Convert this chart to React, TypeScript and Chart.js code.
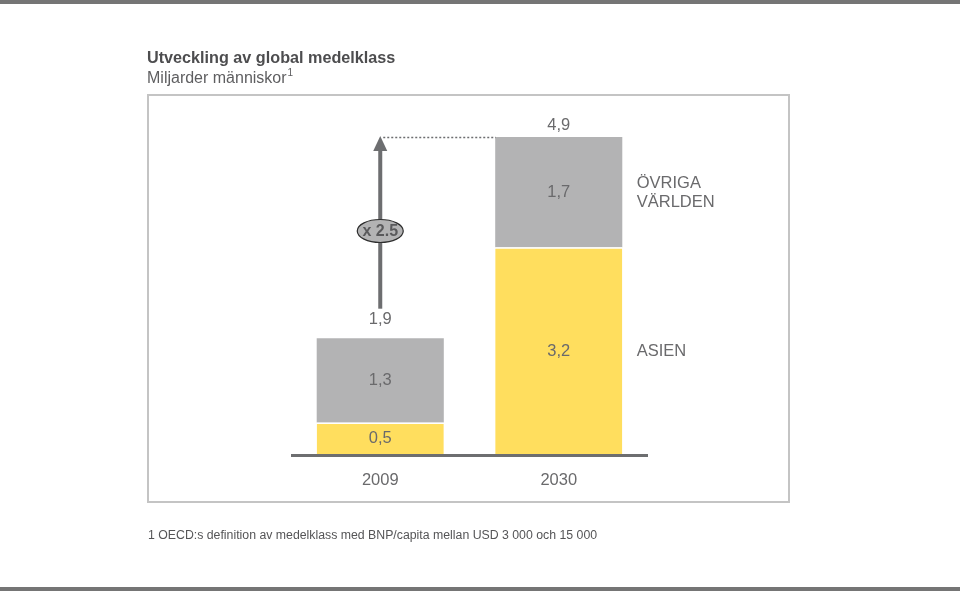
import React, { useEffect, useRef } from "react";
import { Chart, registerables } from "chart.js";

Chart.register(...registerables);

const categories = ["2009", "2030"];
const asia = [0.5, 3.2];
const rest = [1.3, 1.7];
const totals = [1.9, 4.9];
const asiaLabels = ["0,5", "3,2"];
const restLabels = ["1,3", "1,7"];
const totalLabels = ["1,9", "4,9"];
const seriesNames = ["ASIEN", "ÖVRIGA|VÄRLDEN"];
const growthLabel = "x 2.5";
const title = "Utveckling av global medelklass";
const subtitle = "Miljarder människor";
const footnote = "1 OECD:s definition av medelklass med BNP/capita mellan USD 3 000 och 15 000";

const YELLOW = "#FFDE5E";
const GRAY = "#B3B3B4";
const TEXT = "#6A6A6C";
const FONT = "'Liberation Sans', Arial, Helvetica, sans-serif";

const decorPlugin = {
  id: "decor",
  beforeDraw(chart: any) {
    const ctx = chart.ctx;
    ctx.save();
    ctx.fillStyle = "#ffffff";
    ctx.fillRect(0, 0, chart.width, chart.height);
    // top & bottom rules
    ctx.fillStyle = "#757575";
    ctx.fillRect(0, 0, 960, 4);
    ctx.fillRect(0, 587, 960, 4);
    // title
    ctx.textBaseline = "alphabetic";
    ctx.textAlign = "left";
    ctx.fillStyle = "#4d4d4f";
    ctx.font = `bold 16.2px ${FONT}`;
    ctx.fillText(title, 147, 63);
    ctx.fillStyle = "#5e5e60";
    ctx.font = `16px ${FONT}`;
    ctx.fillText(subtitle, 147, 83);
    const w = ctx.measureText(subtitle).width;
    ctx.font = `10px ${FONT}`;
    ctx.fillText("1", 147 + w + 1, 76);
    // box
    ctx.strokeStyle = "#c4c4c4";
    ctx.lineWidth = 2;
    ctx.strokeRect(148, 95, 641, 407);
    // footnote
    ctx.fillStyle = "#555557";
    ctx.font = `12.3px ${FONT}`;
    ctx.fillText(footnote, 148, 539);
    ctx.restore();
  },
  afterDatasetsDraw(chart: any) {
    const ctx = chart.ctx;
    const x = chart.scales.x;
    const y = chart.scales.y;
    const area = chart.chartArea;
    ctx.save();
    // baseline
    ctx.fillStyle = "#6d6e70";
    ctx.fillRect(area.left, y.getPixelForValue(0) - 1, area.right - area.left, 3);
    ctx.font = `16.5px ${FONT}`;
    ctx.fillStyle = TEXT;
    ctx.textAlign = "center";
    ctx.textBaseline = "middle";
    categories.forEach((c, i) => {
      const cx = x.getPixelForValue(i);
      ctx.fillText(c, cx, y.getPixelForValue(0) + 25);
      ctx.fillText(asiaLabels[i], cx, y.getPixelForValue(asia[i] / 2));
      ctx.fillText(restLabels[i], cx, y.getPixelForValue(asia[i] + rest[i] / 2));
      ctx.fillText(totalLabels[i], cx, y.getPixelForValue(totals[i]) - 12);
    });
    // series names
    ctx.textAlign = "left";
    const lx = x.getPixelForValue(1) + 78;
    ctx.fillText(seriesNames[0], lx, y.getPixelForValue(asia[1] / 2));
    const restLines = seriesNames[1].split("|");
    const ry = y.getPixelForValue(asia[1] + rest[1] / 2);
    ctx.fillText(restLines[0], lx, ry - 9);
    ctx.fillText(restLines[1], lx, ry + 10);
    // growth arrow
    const ax = x.getPixelForValue(0);
    const top = y.getPixelForValue(totals[1]);
    const bottom = y.getPixelForValue(totals[0]) - 23;
    ctx.fillStyle = "#6d6e70";
    ctx.fillRect(ax - 2, top + 12, 4, bottom - top - 12);
    ctx.beginPath();
    ctx.moveTo(ax, top - 1);
    ctx.lineTo(ax - 7, top + 14);
    ctx.lineTo(ax + 7, top + 14);
    ctx.closePath();
    ctx.fill();
    // dotted line
    ctx.strokeStyle = "#6d6e70";
    ctx.lineWidth = 1.5;
    ctx.setLineDash([2, 2]);
    ctx.beginPath();
    ctx.moveTo(ax + 3, top + 0.5);
    ctx.lineTo(x.getPixelForValue(1) - 63, top + 0.5);
    ctx.stroke();
    ctx.setLineDash([]);
    // ellipse
    const ey = 231;
    ctx.beginPath();
    ctx.ellipse(ax, ey, 23, 11.5, 0, 0, Math.PI * 2);
    ctx.fillStyle = GRAY;
    ctx.fill();
    ctx.strokeStyle = "#2e2e2e";
    ctx.lineWidth = 1.2;
    ctx.stroke();
    ctx.fillStyle = "#5a5a5c";
    ctx.font = `bold 16px ${FONT}`;
    ctx.textAlign = "center";
    ctx.fillText(growthLabel, ax, ey + 1);
    ctx.restore();
  },
};

export default function App() {
  const ref = useRef<HTMLCanvasElement>(null);
  useEffect(() => {
    if (!ref.current) return;
    const chart = new Chart(ref.current, {
      type: "bar",
      data: {
        labels: categories,
        datasets: [
          {
            label: "Asien",
            data: asia,
            backgroundColor: YELLOW,
            borderColor: "#ffffff",
            borderWidth: { top: 1.5, left: 0, right: 0, bottom: 0 },
            borderSkipped: false,
            barPercentage: 1,
            categoryPercentage: 0.712,
          },
          {
            label: "Övriga världen",
            data: rest,
            backgroundColor: GRAY,
            borderWidth: 0,
            barPercentage: 1,
            categoryPercentage: 0.712,
          },
        ],
      },
      plugins: [decorPlugin],
      options: {
        responsive: false,
        animation: false,
        devicePixelRatio: 1,
        layout: { padding: { left: 291, right: 312, top: 130.5, bottom: 137 } },
        plugins: { legend: { display: false }, tooltip: { enabled: false }, title: { display: false } },
        scales: {
          x: { stacked: true, display: false },
          y: { stacked: true, display: false, min: 0, max: 5 },
        },
      },
    });
    return () => chart.destroy();
  }, []);
  return (
    <canvas
      ref={ref}
      width={960}
      height={592}
      style={{ position: "absolute", left: 0, top: 0, width: 960, height: 592 }}
    />
  );
}
